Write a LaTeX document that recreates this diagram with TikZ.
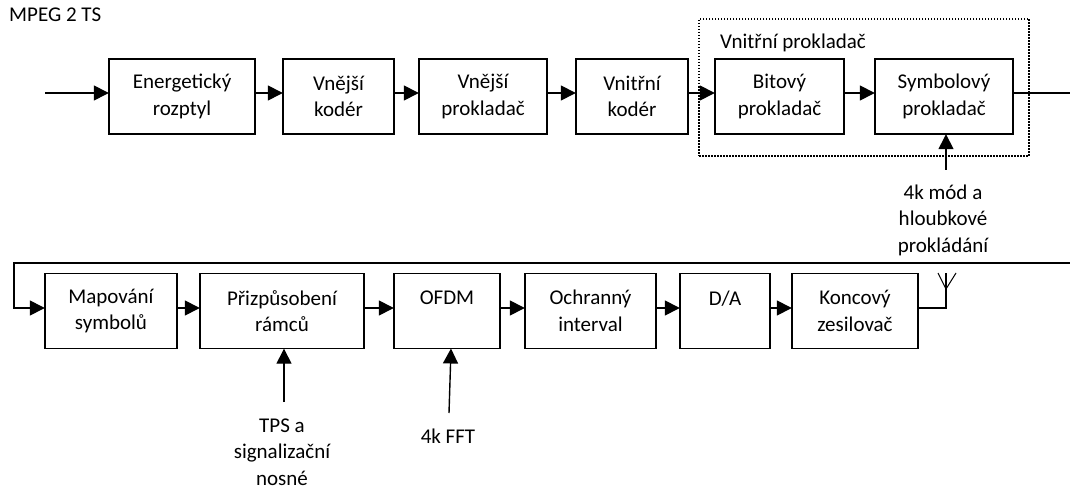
\documentclass[tikz,border=0pt]{standalone}
\usepackage{fontspec}
\setmainfont{Carlito}
\usetikzlibrary{arrows.meta, positioning}
\tikzset{
  blok/.style={draw, line width=1.4pt, inner sep=0pt, minimum height=75pt, align=center, font=\fontsize{21}{26.5}\selectfont},
  popis/.style={inner sep=0pt, align=center, font=\fontsize{21}{26.5}\selectfont},
  sipka/.style={line width=1.4pt, -{Triangle[length=15pt,width=15pt]}, shorten >=-0.5pt},
  vodic/.style={line width=1.4pt}
}

\begin{document}
\begin{tikzpicture}[x=1pt, y=-1pt]
  \useasboundingbox (0,0) rectangle (1070,486);

  \node[popis, anchor=west] (vstup) at (9,15) {MPEG 2 TS};

  % horni rada
  \node[blok, minimum width=146pt] (energ) at (182,96.5) {Energetický\\rozptyl};
  \node[blok, minimum width=111pt] (vnekod) at (338.5,96.5) {Vnější\\kodér};
  \node[blok, minimum width=128pt] (vneprok) at (483,96.5) {Vnější\\prokladač};
  \node[blok, minimum width=112pt] (vnikod) at (632,96.5) {Vnitřní\\kodér};
  \node[blok, minimum width=129pt] (bit) at (779.5,96.5) {Bitový\\prokladač};
  \node[blok, minimum width=138pt] (sym) at (944,96.5) {Symbolový\\prokladač};

  \node[draw, dash pattern=on 1.5pt off 1.5pt, line width=1.5pt, minimum width=330pt, minimum height=137pt, inner sep=0pt] (ramec) at (864,87.5) {};
  \node[popis, anchor=west] (ramectext) at (720,43) {Vnitřní prokladač};
  \node[popis] (mod) at (943,220) {4k mód a\\hloubkové\\prokládání};

  \coordinate (vstupkonec) at (45,93);
  \coordinate (vpravo) at (1070,93);
  \coordinate (modkonec) at (946,170);

  \draw[sipka] (vstupkonec) -- (vstupkonec -| energ.west);
  \draw[sipka] ([yshift=3.5pt]energ.east) -- ([yshift=3.5pt]vnekod.west);
  \draw[sipka] ([yshift=3.5pt]vnekod.east) -- ([yshift=3.5pt]vneprok.west);
  \draw[sipka] ([yshift=3.5pt]vneprok.east) -- ([yshift=3.5pt]vnikod.west);
  \draw[sipka] ([yshift=3.5pt]vnikod.east) -- ([yshift=3.5pt]bit.west);
  \draw[sipka] ([yshift=3.5pt]bit.east) -- ([yshift=3.5pt]sym.west);
  \draw[vodic] ([yshift=3.5pt]sym.east) -- (vpravo);
  \draw[sipka] (modkonec) -- (modkonec |- sym.south);

  % spodni rada
  \node[blok, minimum width=132pt] (map) at (111,311) {Mapování\\symbolů};
  \node[blok, minimum width=164pt] (ramce) at (282,311) {Přizpůsobení\\rámců};
  \node[blok, minimum width=106pt] (ofdm) at (447,311) {OFDM\\~};
  \node[blok, minimum width=131pt] (ochr) at (590.5,311) {Ochranný\\interval};
  \node[blok, minimum width=90pt] (da) at (725,311) {D/A\\~};
  \node[blok, minimum width=126pt] (zes) at (855,311) {Koncový\\zesilovač};

  \node[popis] (tps) at (282,452) {TPS a\\signalizační\\nosné};
  \node[popis] (fft) at (448,436) {4k FFT};

  \coordinate (zpet) at (1070,263);
  \coordinate (roh) at (14,263);
  \coordinate (tpskonec) at (284,402);
  \coordinate (fftkonec) at (449,413);
  \coordinate (ffthrot) at (451,349);
  \coordinate (antuzel) at (946,289);
  \coordinate (antvrch) at (946,273);
  \coordinate (antlevy) at (938,273);
  \coordinate (antpravy) at (956,273);

  \draw[sipka] (zpet) -- (roh) |- ([yshift=3pt]map.west);
  \draw[sipka] ([yshift=3pt]map.east) -- ([yshift=3pt]ramce.west);
  \draw[sipka] ([yshift=3pt]ramce.east) -- ([yshift=3pt]ofdm.west);
  \draw[sipka] ([yshift=3pt]ofdm.east) -- ([yshift=3pt]ochr.west);
  \draw[sipka] ([yshift=3pt]ochr.east) -- ([yshift=3pt]da.west);
  \draw[sipka] ([yshift=3pt]da.east) -- ([yshift=3pt]zes.west);
  \draw[sipka] (tpskonec) -- (tpskonec |- ramce.south);
  \draw[sipka] (fftkonec) -- (ffthrot);

  % anteny
  \draw[vodic] ([yshift=3pt]zes.east) -| (antvrch);
  \draw[line width=1pt] (antlevy) -- (antuzel) -- (antpravy);
\end{tikzpicture}
\end{document}
